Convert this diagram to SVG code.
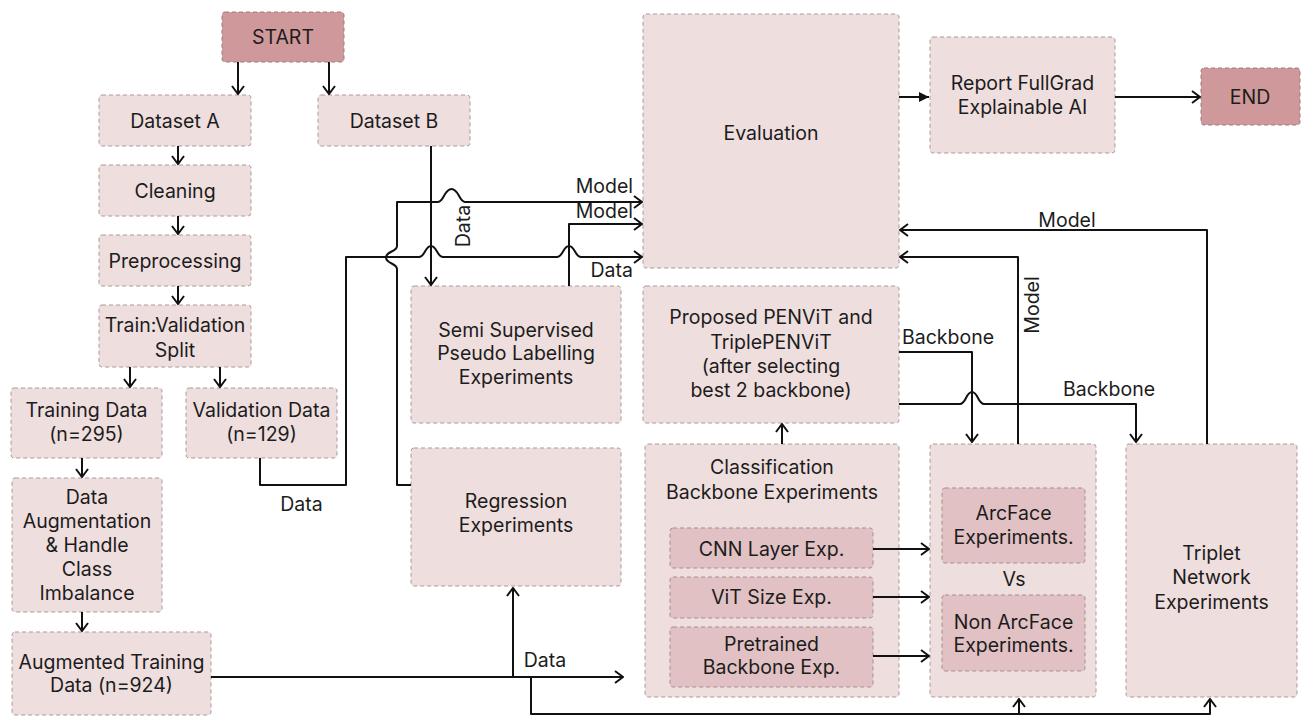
<svg xmlns="http://www.w3.org/2000/svg" width="1301" height="717" viewBox="0 0 1301 717">
  <defs>
    <style>
      .box { fill:#efdede; stroke:#a99a9a; stroke-width:1; stroke-dasharray:4 3; }
      .inner { fill:#e1c1c3; stroke:#a58f90; stroke-width:1; stroke-dasharray:4 3; }
      .term { fill:#cf999b; stroke:#9a7b7c; stroke-width:1; stroke-dasharray:4 3; }
      text { font-family:Inter, "Noto Sans", "Liberation Sans", sans-serif; font-size:19.5px; fill:#1c1c1c; text-anchor:middle; }
      .end { text-anchor:end; }
      .wire { fill:none; stroke:#111; stroke-width:2; stroke-linejoin:round; }
    </style>
    <marker id="ah" viewBox="0 0 12 14" refX="11" refY="7" markerWidth="12" markerHeight="14" markerUnits="userSpaceOnUse" orient="auto">
      <path d="M3,1 L11,7 L3,13" fill="none" stroke="#111" stroke-width="2"/>
    </marker>
    <marker id="ahf" viewBox="0 0 12 12" refX="11" refY="6" markerWidth="12" markerHeight="12" markerUnits="userSpaceOnUse" orient="auto">
      <path d="M1,1 L11,6 L1,11 Z" fill="#111"/>
    </marker>
  </defs>

  <g id="start"><rect class="term" x="222" y="12" width="122" height="50" rx="3"/><text x="283" y="44">START</text></g>
  <g id="dataset-a"><rect class="box" x="99" y="95" width="152" height="51" rx="3"/><text x="175" y="127.5">Dataset A</text></g>
  <g id="dataset-b"><rect class="box" x="318" y="95" width="152" height="51" rx="3"/><text x="394" y="127.5">Dataset B</text></g>
  <g id="cleaning"><rect class="box" x="99" y="165" width="152" height="51" rx="3"/><text x="175" y="197.5">Cleaning</text></g>
  <g id="preprocessing"><rect class="box" x="99" y="235" width="152" height="51" rx="3"/><text x="175" y="267.5">Preprocessing</text></g>
  <g id="split"><rect class="box" x="99" y="305" width="152" height="62" rx="3"/><text x="175" y="332">Train:Validation</text><text x="175" y="357">Split</text></g>
  <g id="training-data"><rect class="box" x="11" y="388" width="151" height="70" rx="3"/><text x="86.5" y="417">Training Data</text><text x="86.5" y="441">(n=295)</text></g>
  <g id="validation-data"><rect class="box" x="186" y="388" width="151" height="70" rx="3"/><text x="261.5" y="417">Validation Data</text><text x="261.5" y="441">(n=129)</text></g>
  <g id="augmentation"><rect class="box" x="12" y="478" width="150" height="134" rx="3"/>
    <text x="87" y="504">Data</text><text x="87" y="528">Augmentation</text><text x="87" y="552">&amp; Handle</text><text x="87" y="576">Class</text><text x="87" y="600">Imbalance</text></g>
  <g id="augmented-data"><rect class="box" x="12" y="632" width="199" height="83" rx="3"/><text x="111.5" y="669">Augmented Training</text><text x="111.5" y="692">Data (n=924)</text></g>
  <g id="semi-supervised"><rect class="box" x="411" y="286" width="210" height="137" rx="3"/>
    <text x="516" y="337">Semi Supervised</text><text x="516" y="360">Pseudo Labelling</text><text x="516" y="384">Experiments</text></g>
  <g id="regression"><rect class="box" x="411" y="448" width="210" height="138" rx="3"/><text x="516" y="508">Regression</text><text x="516" y="532">Experiments</text></g>
  <g id="evaluation"><rect class="box" x="643" y="14" width="256" height="254" rx="3"/><text x="771" y="140">Evaluation</text></g>
  <g id="report"><rect class="box" x="930" y="37" width="185" height="116" rx="3"/><text x="1022.5" y="90">Report FullGrad</text><text x="1022.5" y="114">Explainable AI</text></g>
  <g id="end"><rect class="term" x="1201" y="68" width="99" height="57" rx="3"/><text x="1250" y="104">END</text></g>
  <g id="proposed"><rect class="box" x="643" y="286" width="256" height="137" rx="3"/>
    <text x="771" y="324">Proposed PENViT and</text><text x="771" y="349">TriplePENViT</text><text x="771" y="373">(after selecting</text><text x="771" y="397">best 2 backbone)</text></g>
  <g id="classification"><rect class="box" x="645" y="444" width="254" height="253" rx="3"/>
    <text x="772" y="474">Classification</text><text x="772" y="499">Backbone Experiments</text>
    <g id="cnn-layer"><rect class="inner" x="670" y="528" width="203" height="40" rx="3"/><text x="771.5" y="556">CNN Layer Exp.</text></g>
    <g id="vit-size"><rect class="inner" x="670" y="577" width="203" height="41" rx="3"/><text x="771.5" y="604">ViT Size Exp.</text></g>
    <g id="pretrained"><rect class="inner" x="670" y="627" width="203" height="60" rx="3"/><text x="771.5" y="651">Pretrained</text><text x="771.5" y="674">Backbone Exp.</text></g>
  </g>
  <g id="arcface-group"><rect class="box" x="930" y="444" width="166" height="253" rx="3"/>
    <g id="arcface"><rect class="inner" x="942" y="488" width="143" height="75" rx="3"/><text x="1013.5" y="520">ArcFace</text><text x="1013.5" y="544">Experiments.</text></g>
    <text x="1014" y="586">Vs</text>
    <g id="non-arcface"><rect class="inner" x="942" y="595" width="143" height="76" rx="3"/><text x="1013.5" y="629">Non ArcFace</text><text x="1013.5" y="652">Experiments.</text></g>
  </g>
  <g id="triplet"><rect class="box" x="1126" y="444" width="171" height="253" rx="3"/>
    <text x="1211.5" y="560">Triplet</text><text x="1211.5" y="584">Network</text><text x="1211.5" y="609">Experiments</text></g>

  <g id="connectors">
    <path class="wire" marker-end="url(#ah)" d="M238,62 V94"/>
    <path class="wire" marker-end="url(#ah)" d="M329,62 V94"/>
    <path class="wire" marker-end="url(#ah)" d="M178,146 V164"/>
    <path class="wire" marker-end="url(#ah)" d="M178,216 V234"/>
    <path class="wire" marker-end="url(#ah)" d="M178,286 V304"/>
    <path class="wire" marker-end="url(#ah)" d="M130,367 V387"/>
    <path class="wire" marker-end="url(#ah)" d="M220,367 V387"/>
    <path class="wire" marker-end="url(#ah)" d="M82,458 V477"/>
    <path class="wire" marker-end="url(#ah)" d="M82,612 V631"/>
    <path class="wire" marker-end="url(#ah)" d="M211,677 H623"/>
    <path class="wire" marker-end="url(#ah)" d="M513,677 V588"/>
    <path class="wire" marker-end="url(#ah)" d="M531,677 V714 H1210 V699"/>
    <path class="wire" marker-end="url(#ah)" d="M1019,714 V699"/>
    <path class="wire" marker-end="url(#ah)" d="M431,146 V285"/>
    <path class="wire" marker-end="url(#ah)" d="M411,485 H397 V269 C397,263 386,264 386,257.5 C386,251 397,252 397,246 V202 H438 C444,202 444,189 451.5,189 C459,189 459,202 465,202 H642"/>
    <path class="wire" marker-end="url(#ah)" d="M260,458 V485 H346 V257 H419 C425,257 425,246 431,246 C437,246 437,257 443,257 H557 C563,257 563,246 569,246 C575,246 575,257 581,257 H642"/>
    <path class="wire" marker-end="url(#ah)" d="M569,286 V224 H642"/>
    <path class="wire" marker-end="url(#ah)" d="M1207,444 V230 H900"/>
    <path class="wire" marker-end="url(#ah)" d="M1018,444 V257 H900"/>
    <path class="wire" marker-end="url(#ah)" d="M899,352 H972 V442"/>
    <path class="wire" marker-end="url(#ah)" d="M899,404 H960 C966,404 966,392 972,392 C978,392 978,404 984,404 H1136 V442"/>
    <path class="wire" marker-end="url(#ah)" d="M782,444 V424"/>
    <path class="wire" marker-end="url(#ah)" d="M873,549 H929"/>
    <path class="wire" marker-end="url(#ah)" d="M873,597 H929"/>
    <path class="wire" marker-end="url(#ah)" d="M873,656 H929"/>
    <path class="wire" marker-end="url(#ahf)" d="M899,97 H929"/>
    <path class="wire" marker-end="url(#ah)" d="M1115,97 H1200"/>

    <text class="end" x="633" y="193">Model</text>
    <text class="end" x="633" y="218">Model</text>
    <text class="end" x="633" y="277">Data</text>
    <text transform="translate(470,226) rotate(-90)">Data</text>
    <text x="301.5" y="511">Data</text>
    <text x="545" y="667">Data</text>
    <text x="948" y="344">Backbone</text>
    <text x="1109" y="396">Backbone</text>
    <text x="1067" y="227">Model</text>
    <text transform="translate(1039,305) rotate(-90)">Model</text>
  </g>
</svg>
